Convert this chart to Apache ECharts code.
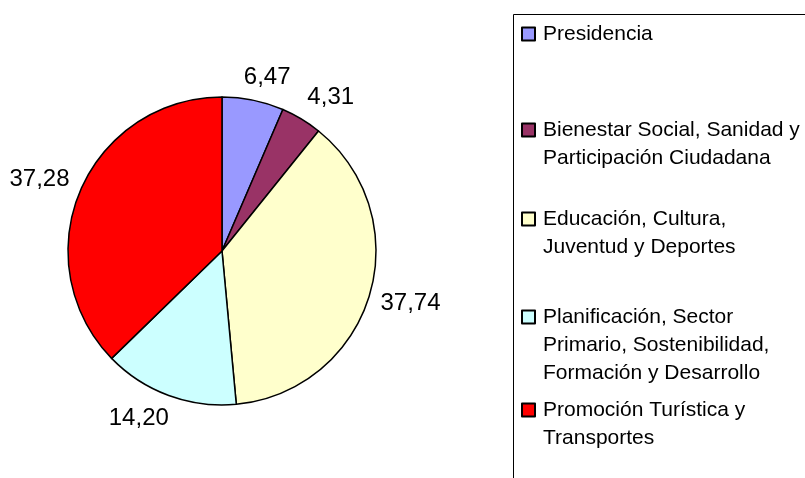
<!DOCTYPE html>
<html>
<head>
<meta charset="utf-8">
<script src="https://cdn.jsdelivr.net/npm/echarts@6/dist/echarts.min.js"></script>
<style>
  html, body { margin: 0; padding: 0; background: #fff; }
  #chart { width: 805px; height: 478px; }
</style>
</head>
<body>
<div id="chart"></div>
<script>
const categories = [
  'Presidencia',
  'Bienestar Social, Sanidad y Participación Ciudadana',
  'Educación, Cultura, Juventud y Deportes',
  'Planificación, Sector Primario, Sostenibilidad, Formación y Desarrollo',
  'Promoción Turística y Transportes'
];
const legendLines = [
  ['Presidencia'],
  ['Bienestar Social, Sanidad y', 'Participación Ciudadana'],
  ['Educación, Cultura,', 'Juventud y Deportes'],
  ['Planificación, Sector', 'Primario, Sostenibilidad,', 'Formación y Desarrollo'],
  ['Promoción Turística y', 'Transportes']
];
const values = [6.47, 4.31, 37.74, 14.20, 37.28];
const colors = ['#9999ff', '#993366', '#ffffcc', '#ccffff', '#ff0000'];

// layout
const FONT = "'Liberation Sans', Arial, sans-serif";
const PIE_CENTER = [222, 251];
const PIE_R = 154;
const LH = 28;              // legend line height
const ICON = 13;            // legend icon size
const legendRowY = [34, 130, 219, 317, 410]; // first line centre of each legend entry
const LABEL_GAP = 11.5;

const clamp = v => Math.max(-1, Math.min(1, v));

function initChart() {
  const chart = echarts.init(document.getElementById('chart'));

  // one legend per entry so the uneven spacing of the original can be kept;
  // blank lines in front keep the icon level with the first text line
  const legends = categories.map((name, i) => {
    const n = legendLines[i].length;
    return {
      data: [name],
      left: 521,
      top: legendRowY[i] - (2 * n - 1) * LH / 2,
      orient: 'vertical',
      padding: 0,
      icon: 'rect',
      itemWidth: ICON,
      itemHeight: ICON,
      selectedMode: false,
      formatter: () => '\n'.repeat(n - 1) + legendLines[i].join('\n'),
      textStyle: {
        fontFamily: FONT,
        fontSize: 21,
        color: '#000',
        lineHeight: LH,
        padding: [0, 0, 0, 3]
      }
    };
  });

  chart.setOption({
    animation: false,
    backgroundColor: '#fff',
    legend: legends,
    graphic: [{
      type: 'rect',
      shape: { x: 513.5, y: 14.5, width: 400, height: 500 },
      style: { fill: 'none', stroke: '#000', lineWidth: 1 },
      silent: true
    }],
    series: [{
      type: 'pie',
      center: PIE_CENTER,
      radius: PIE_R,
      startAngle: 90,
      clockwise: true,
      avoidLabelOverlap: false,
      color: colors,
      data: categories.map((name, i) => ({ name, value: values[i] })),
      itemStyle: { borderColor: '#000', borderWidth: 1.5 },
      emphasis: { disabled: true },
      label: {
        show: true,
        position: 'outside',
        overflow: 'none',
        edgeDistance: 0,
        fontFamily: FONT,
        fontSize: 24,
        color: '#000',
        formatter: p => p.value.toFixed(2).replace('.', ',')
      },
      labelLine: {
        show: true,
        length: LABEL_GAP,
        length2: 0,
        lineStyle: { opacity: 0 }
      },
      // put the label box just outside the slice, pushed away along its mid-angle
      labelLayout: function (params) {
        const pts = params.labelLinePoints;
        if (!pts) return {};
        let ux = pts[0][0] - PIE_CENTER[0];
        let uy = pts[0][1] - PIE_CENTER[1];
        const len = Math.hypot(ux, uy) || 1;
        ux /= len; uy /= len;
        const px = pts[0][0] + ux * LABEL_GAP;
        const py = pts[0][1] + uy * LABEL_GAP;
        const w = params.labelRect.width, h = params.labelRect.height;
        return {
          x: px + clamp(2.5 * ux) * w / 2,
          y: py + clamp(1.5 * uy) * h / 2,
          align: 'center',
          verticalAlign: 'middle'
        };
      }
    }]
  });
}

document.addEventListener('DOMContentLoaded', initChart);
</script>
</body>
</html>
